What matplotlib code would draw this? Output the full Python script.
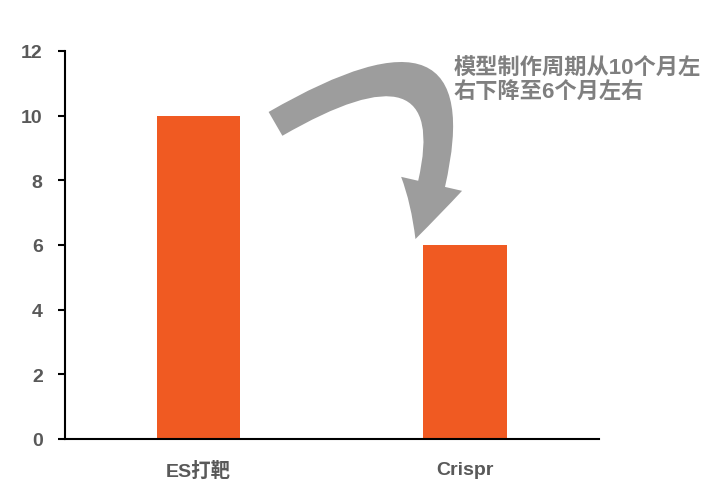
import matplotlib
matplotlib.use("Agg")
import matplotlib.pyplot as plt

plt.rcParams['font.family'] = ['Liberation Sans', 'Noto Sans CJK SC', 'DejaVu Sans']

# data
categories = ["ES打靶", "Crispr"]
months = [10, 6]
yticks = [0, 2, 4, 6, 8, 10, 12]
note = "模型制作周期从10个月左\n右下降至6个月左右"

BAR = "#F05A22"
GRAY = "#595959"

fig = plt.figure(figsize=(7.06, 4.85), dpi=100)
ax = fig.add_axes([0.092, 0.093, 0.756, 0.800])

x = range(len(categories))
ax.bar(x, months, width=0.313, color=BAR)

ax.set_xlim(-0.5, 1.5)
ax.set_ylim(0, 12)
ax.set_yticks(yticks)
ax.set_xticks(list(x))
ax.set_xticklabels(categories)

for s in ("top", "right"):
    ax.spines[s].set_visible(False)
for s in ("left", "bottom"):
    ax.spines[s].set_linewidth(1.5)
    ax.spines[s].set_color("black")

ax.tick_params(axis="y", direction="out", length=5, width=1.5, pad=11,
               labelsize=14, labelcolor=GRAY)
ax.tick_params(axis="x", length=0, pad=16, labelsize=14, labelcolor=GRAY)
for lbl in ax.get_xticklabels() + ax.get_yticklabels():
    lbl.set_fontweight("bold")

# curved arrow from first bar to second
ax.annotate("", xy=(0.81, 6.1), xytext=(0.28, 9.7),
            arrowprops=dict(arrowstyle="simple,head_width=2.5,head_length=2.3,tail_width=1.1",
                            connectionstyle="arc3,rad=-1.35",
                            color="#9d9d9d", lw=0, mutation_scale=18))

fig.text(0.643, 0.878, note, fontsize=16, fontweight="bold", color="#7f7f7f",
         ha="left", va="top", linespacing=1.1)

fig.savefig("out.png", dpi=100)
